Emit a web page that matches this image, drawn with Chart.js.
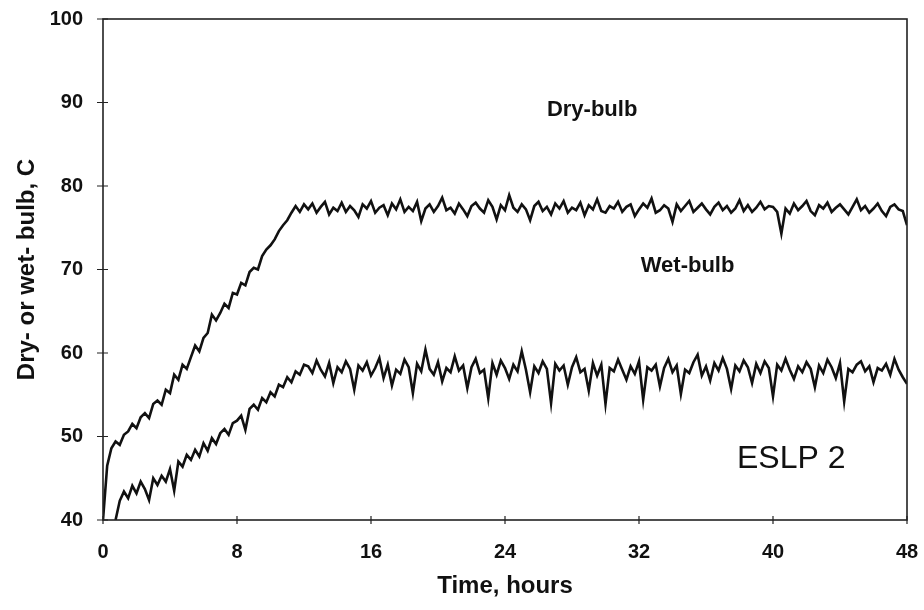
<!DOCTYPE html>
<html>
<head>
<meta charset="utf-8">
<script src="https://cdn.jsdelivr.net/npm/chart.js@4"></script>
<style>
  html, body { margin: 0; padding: 0; background: #fff; }
  #wrap { width: 924px; height: 610px; }
</style>
</head>
<body>
<div id="wrap"><canvas id="chart" width="924" height="610"></canvas></div>
<script>
// time axis, hours (one reading every 15 min)
const hours = [
  0, 0.25, 0.5, 0.75, 1, 1.25, 1.5, 1.75, 2, 2.25, 2.5, 2.75,
  3, 3.25, 3.5, 3.75, 4, 4.25, 4.5, 4.75, 5, 5.25, 5.5, 5.75,
  6, 6.25, 6.5, 6.75, 7, 7.25, 7.5, 7.75, 8, 8.25, 8.5, 8.75,
  9, 9.25, 9.5, 9.75, 10, 10.25, 10.5, 10.75, 11, 11.25, 11.5, 11.75,
  12, 12.25, 12.5, 12.75, 13, 13.25, 13.5, 13.75, 14, 14.25, 14.5, 14.75,
  15, 15.25, 15.5, 15.75, 16, 16.25, 16.5, 16.75, 17, 17.25, 17.5, 17.75,
  18, 18.25, 18.5, 18.75, 19, 19.25, 19.5, 19.75, 20, 20.25, 20.5, 20.75,
  21, 21.25, 21.5, 21.75, 22, 22.25, 22.5, 22.75, 23, 23.25, 23.5, 23.75,
  24, 24.25, 24.5, 24.75, 25, 25.25, 25.5, 25.75, 26, 26.25, 26.5, 26.75,
  27, 27.25, 27.5, 27.75, 28, 28.25, 28.5, 28.75, 29, 29.25, 29.5, 29.75,
  30, 30.25, 30.5, 30.75, 31, 31.25, 31.5, 31.75, 32, 32.25, 32.5, 32.75,
  33, 33.25, 33.5, 33.75, 34, 34.25, 34.5, 34.75, 35, 35.25, 35.5, 35.75,
  36, 36.25, 36.5, 36.75, 37, 37.25, 37.5, 37.75, 38, 38.25, 38.5, 38.75,
  39, 39.25, 39.5, 39.75, 40, 40.25, 40.5, 40.75, 41, 41.25, 41.5, 41.75,
  42, 42.25, 42.5, 42.75, 43, 43.25, 43.5, 43.75, 44, 44.25, 44.5, 44.75,
  45, 45.25, 45.5, 45.75, 46, 46.25, 46.5, 46.75, 47, 47.25, 47.5, 47.75,
  48
];

const dryBulb = [
  40, 46.5, 48.6, 49.4, 49.0, 50.2, 50.6, 51.5, 51.0, 52.3, 52.8, 52.2,
  53.9, 54.3, 53.8, 55.6, 55.2, 57.4, 56.8, 58.6, 58.1, 59.5, 60.9, 60.2,
  61.8, 62.4, 64.6, 63.9, 64.8, 65.9, 65.4, 67.2, 67.0, 68.4, 68.1, 69.7,
  70.2, 70.0, 71.6, 72.4, 72.9, 73.6, 74.6, 75.3, 75.9, 76.8, 77.6, 76.9,
  77.8, 77.2, 77.9, 76.8, 77.5, 78.1, 76.6, 77.4, 77.0, 78.0, 76.9, 77.6,
  77.1, 76.3, 77.8, 77.3, 78.2, 76.8, 77.4, 77.7, 76.5, 77.9, 77.2, 78.4,
  76.9, 77.5, 77.0, 78.1, 75.8, 77.3, 77.8, 76.9, 77.6, 78.6, 77.1, 77.4,
  76.7, 77.9, 77.2, 76.4, 77.6, 78.0, 77.3, 76.8, 78.3, 77.5, 76.0, 77.7,
  77.1, 78.9, 77.4, 76.9, 77.8, 77.2, 75.9, 77.6, 78.1, 77.0, 77.5, 76.6,
  77.9, 77.3, 78.2, 76.8, 77.4, 77.1, 78.0, 76.5, 77.7, 77.2, 78.4, 77.0,
  76.8, 77.6, 77.3, 78.1, 76.9, 77.5, 77.8, 76.4, 77.2, 77.9, 77.4, 78.5,
  76.8, 77.1, 77.7, 77.3, 75.7, 77.8, 77.0, 77.6, 78.2, 76.9, 77.4, 77.9,
  77.2, 76.6, 77.5, 78.0, 77.1, 77.6, 76.8, 77.3, 78.3, 77.0, 77.7, 76.9,
  77.4, 78.1, 77.2, 77.6, 77.5, 76.9, 74.3, 77.3, 76.7, 77.9, 77.1, 77.6,
  78.2, 77.0, 76.5, 77.7, 77.3, 78.0, 76.9, 77.4, 77.8, 77.2, 76.6, 77.5,
  78.4, 77.1, 77.6, 76.8, 77.3, 77.9, 77.0, 76.4, 77.5, 77.8, 77.2, 77.0,
  75.3
];

const wetBulb = [
  null, null, null, 40, 42.3, 43.4, 42.6, 44.1, 43.2, 44.6, 43.7, 42.4,
  45.0, 44.2, 45.3, 44.6, 46.1, 43.5, 47.0, 46.4, 47.8, 47.2, 48.4, 47.6,
  49.2, 48.3, 49.8, 49.1, 50.4, 50.9, 50.2, 51.6, 51.9, 52.5, 50.8, 53.3,
  53.8, 53.2, 54.6, 54.1, 55.3, 54.8, 56.2, 55.9, 57.1, 56.5, 57.8, 57.4,
  58.6, 58.4, 57.6, 59.1, 58.0, 57.2, 58.8, 56.4, 58.3, 57.7, 59.0, 58.1,
  55.6, 58.5, 57.9, 58.9, 57.3, 58.2, 59.4, 57.0, 58.6, 56.1, 58.0, 57.5,
  59.2, 58.3, 55.2, 58.7, 57.8, 60.4, 58.1, 57.4, 58.9, 56.6, 58.2, 57.7,
  59.6, 57.9, 58.5, 55.8, 58.3, 59.3, 57.6, 58.0, 54.6, 58.8, 57.4, 59.1,
  58.2, 56.9, 58.6, 57.8, 60.2, 58.0, 55.3, 58.4, 57.6, 59.0, 58.1, 54.0,
  58.7, 57.9, 58.5, 56.2, 58.3, 59.5, 57.7, 58.1, 55.5, 58.8, 57.3, 58.6,
  53.9, 58.2, 57.8, 59.2, 58.0, 56.8, 58.4, 57.5, 59.0, 54.4, 58.3, 57.9,
  58.6, 56.0, 58.2, 59.3, 57.7, 58.5, 55.1, 58.0, 57.6, 58.9, 59.8, 57.3,
  58.4, 56.7, 58.8, 57.9, 59.4, 58.1, 55.7, 58.5, 57.8, 59.1, 58.3, 56.4,
  58.7, 57.6, 59.0, 58.2, 54.8, 58.6, 57.9, 59.3, 58.0, 56.9, 58.4, 57.7,
  58.9, 58.1, 55.9, 58.5, 57.6, 59.2, 58.3, 57.0, 58.8, 54.2, 58.1, 57.7,
  58.6, 59.0, 57.8, 58.4, 56.5, 58.2, 57.9, 58.7, 57.4, 59.3, 58.0, 57.1,
  56.3
];

const xTicks = [0, 8, 16, 24, 32, 40, 48];
const yTicks = [40, 50, 60, 70, 80, 90, 100];

// text placed inside the plot, in data units
const notes = [
  { text: 'Dry-bulb', x: 29.2, y: 89.1, font: 'bold 22px "Liberation Sans", Arial, sans-serif', align: 'center' },
  { text: 'Wet-bulb', x: 34.9, y: 70.4, font: 'bold 22px "Liberation Sans", Arial, sans-serif', align: 'center' },
  { text: 'ESLP 2', x: 37.85, y: 47.3, font: '32px "Liberation Sans", Arial, sans-serif', align: 'left' }
];

const toPoints = vals => hours.map((h, i) => ({ x: h, y: vals[i] }));

const framePlugin = {
  id: 'frame',
  afterDraw(chart) {
    const ctx = chart.ctx;
    const a = chart.chartArea;
    const xs = chart.scales.x, ys = chart.scales.y;
    ctx.save();
    ctx.strokeStyle = '#222';
    ctx.lineWidth = 1.6;
    ctx.strokeRect(a.left, a.top, a.right - a.left, a.bottom - a.top);
    ctx.lineWidth = 1.2;
    ctx.beginPath();
    yTicks.forEach(v => {
      const py = ys.getPixelForValue(v);
      ctx.moveTo(a.left - 6, py);
      ctx.lineTo(a.left + 5, py);
    });
    xTicks.forEach(v => {
      const px = xs.getPixelForValue(v);
      ctx.moveTo(px, a.bottom - 4);
      ctx.lineTo(px, a.bottom + 4);
    });
    ctx.stroke();
    ctx.fillStyle = '#111';
    ctx.textBaseline = 'middle';
    notes.forEach(n => {
      ctx.font = n.font;
      ctx.textAlign = n.align;
      ctx.fillText(n.text, xs.getPixelForValue(n.x), ys.getPixelForValue(n.y));
    });
    ctx.restore();
  }
};

const tickFont = { family: '"Liberation Sans", Arial, sans-serif', size: 20, weight: 'bold' };
const titleFont = { family: '"Liberation Sans", Arial, sans-serif', size: 24, weight: 'bold' };

new Chart(document.getElementById('chart').getContext('2d'), {
  type: 'line',
  data: {
    datasets: [
      {
        label: 'Dry-bulb',
        data: toPoints(dryBulb),
        borderColor: '#111',
        borderWidth: 2.6,
        pointRadius: 0,
        tension: 0,
        spanGaps: false
      },
      {
        label: 'Wet-bulb',
        data: toPoints(wetBulb),
        borderColor: '#111',
        borderWidth: 2.6,
        pointRadius: 0,
        tension: 0,
        spanGaps: false
      }
    ]
  },
  options: {
    responsive: false,
    animation: false,
    layout: { padding: { top: 19, right: 17, left: 0, bottom: 0 } },
    plugins: {
      legend: { display: false },
      tooltip: { enabled: false }
    },
    scales: {
      x: {
        type: 'linear',
        min: 0,
        max: 48,
        afterBuildTicks: scale => { scale.ticks = xTicks.map(v => ({ value: v })); },
        afterFit: scale => {
          scale.height = 90;
          scale.paddingLeft = 0;
          scale.paddingRight = 0;
        },
        grid: { display: false, drawTicks: false },
        border: { display: false },
        ticks: { color: '#111', font: tickFont, padding: 20, maxRotation: 0 },
        title: { display: true, text: 'Time, hours', color: '#111', font: titleFont, padding: { top: 0, bottom: 9 } }
      },
      y: {
        min: 40,
        max: 100,
        afterBuildTicks: scale => { scale.ticks = yTicks.map(v => ({ value: v })); },
        afterFit: scale => {
          scale.width = 103;
          scale.paddingTop = 0;
          scale.paddingBottom = 0;
        },
        grid: { display: false, drawTicks: false },
        border: { display: false },
        ticks: { color: '#111', font: tickFont, padding: 20 },
        title: { display: true, text: 'Dry- or wet- bulb, C', color: '#111', font: titleFont, padding: { top: 13, bottom: 0 } }
      }
    }
  },
  plugins: [framePlugin]
});
</script>
</body>
</html>
